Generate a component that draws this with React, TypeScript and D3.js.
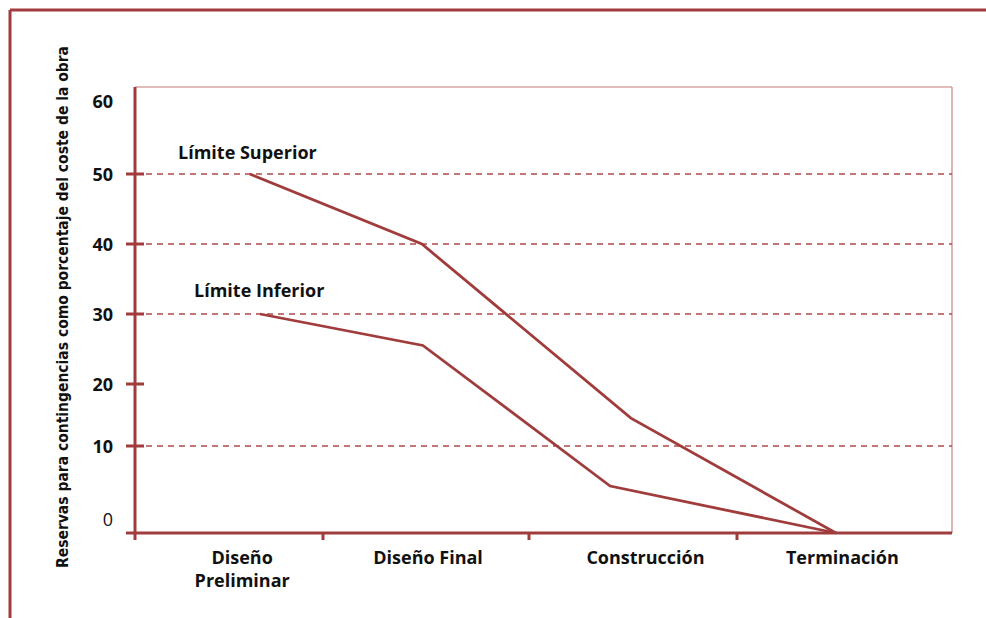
import React from "react";
import * as d3 from "d3";

// Project phases along the horizontal axis
const phases = ["Diseño Preliminar", "Diseño Final", "Construcción", "Terminación"];
const phaseLines: string[][] = [["Diseño", "Preliminar"], ["Diseño Final"], ["Construcción"], ["Terminación"]];
// where each phase name sits, in phase units
const phaseLabelAt = [0.57, 1.51, 2.56, 3.49];

// Contingency reserve as % of the works cost
const upperX = [0.61, 1.48, 2.49, 3.46];
const upperY = [50, 40, 14.5, 0];
const lowerX = [0.665, 1.485, 2.39, 3.46];
const lowerY = [30, 25.5, 5.4, 0];

const yTickLabels = [0, 10, 20, 30, 40, 50, 60];
const yTickMarks = [10, 20, 30, 40, 50];
const gridValues = [10, 30, 40, 50];

const RED = "#a03c3c";
const GRID = "#b04a4a";

export default function App() {
  const x = d3.scaleLinear().domain([0, 1, 2, 3, 4]).range([135, 323, 529, 737, 952]);
  const y = d3.scaleLinear().domain([0, 10, 20, 30, 40, 50, 60]).range([533, 446, 384, 314, 244, 174, 104]);

  const line = d3
    .line<[number, number]>()
    .x((d) => x(d[0]))
    .y((d) => y(d[1]));

  const upper = upperX.map((v, i) => [v, upperY[i]] as [number, number]);
  const lower = lowerX.map((v, i) => [v, lowerY[i]] as [number, number]);

  const left = x(0);
  const right = x(4);
  const bottom = y(0);
  const top = 87;

  const labelFont = "'Open Sans', 'Noto Sans', sans-serif";
  const fs = 18;

  return (
    <svg
      width={986}
      height={618}
      style={{ position: "absolute", left: 0, top: 0, background: "#fff" }}
    >
      {/* outer frame */}
      <line x1={10} y1={10} x2={986} y2={10} stroke={RED} strokeWidth={3} />
      <line x1={10} y1={10} x2={10} y2={618} stroke={RED} strokeWidth={3} />

      {/* plot frame, top and right */}
      <line x1={left} y1={top} x2={right} y2={top} stroke="#d8a4a4" strokeWidth={1.5} />
      <line x1={right} y1={top} x2={right} y2={bottom} stroke="#c88484" strokeWidth={1.2} />

      {/* dashed gridlines */}
      {gridValues.map((v) => (
        <line
          key={v}
          x1={left}
          x2={right}
          y1={y(v)}
          y2={y(v)}
          stroke={GRID}
          strokeWidth={1.3}
          strokeDasharray="6 5"
        />
      ))}

      {/* y axis */}
      <line x1={left} y1={top} x2={left} y2={bottom + 7} stroke={RED} strokeWidth={3} />
      {yTickMarks.map((v) => (
        <line key={v} x1={126} x2={144} y1={y(v)} y2={y(v)} stroke={RED} strokeWidth={3} />
      ))}
      {yTickLabels.map((v) => (
        <text
          key={v}
          x={113}
          y={y(v) + (v === 0 ? -14 : v === 60 ? -3 : 0)}
          textAnchor="end"
          dominantBaseline="central"
          fontFamily={labelFont}
          fontWeight={v === 0 ? 400 : 700}
          fontSize={fs}
          fill="#111"
        >
          {v}
        </text>
      ))}

      {/* x axis */}
      <line x1={126} y1={bottom} x2={right} y2={bottom} stroke={RED} strokeWidth={3} />
      {[1, 2, 3].map((v) => (
        <line key={v} x1={x(v)} x2={x(v)} y1={bottom} y2={bottom + 7} stroke={RED} strokeWidth={3} />
      ))}
      {phases.map((p, i) => (
        <text
          key={p}
          x={x(phaseLabelAt[i])}
          y={557}
          textAnchor="middle"
          dominantBaseline="central"
          fontFamily={labelFont}
          fontWeight={700}
          fontSize={fs}
          fill="#111"
        >
          {phaseLines[i].map((t, j) => (
            <tspan key={j} x={x(phaseLabelAt[i])} dy={j === 0 ? 0 : 23}>
              {t}
            </tspan>
          ))}
        </text>
      ))}

      {/* limit lines */}
      <path d={line(upper) ?? ""} fill="none" stroke={RED} strokeWidth={2.8} strokeLinejoin="miter" />
      <path d={line(lower) ?? ""} fill="none" stroke={RED} strokeWidth={2.8} strokeLinejoin="miter" />

      <text x={178} y={152} dominantBaseline="central" fontFamily={labelFont} fontWeight={700} fontSize={fs} fill="#111">
        Límite Superior
      </text>
      <text x={194} y={290} dominantBaseline="central" fontFamily={labelFont} fontWeight={700} fontSize={fs} fill="#111">
        Límite Inferior
      </text>

      {/* y axis title */}
      <text
        transform="translate(62,307) rotate(-90)"
        textAnchor="middle"
        dominantBaseline="central"
        fontFamily="'Liberation Sans Narrow', 'DejaVu Sans Condensed', sans-serif"
        fontWeight={700}
        fontSize={16}
        fill="#111"
        textLength={522}
        lengthAdjust="spacingAndGlyphs"
      >
        Reservas para contingencias como porcentaje del coste de la obra
      </text>
    </svg>
  );
}
